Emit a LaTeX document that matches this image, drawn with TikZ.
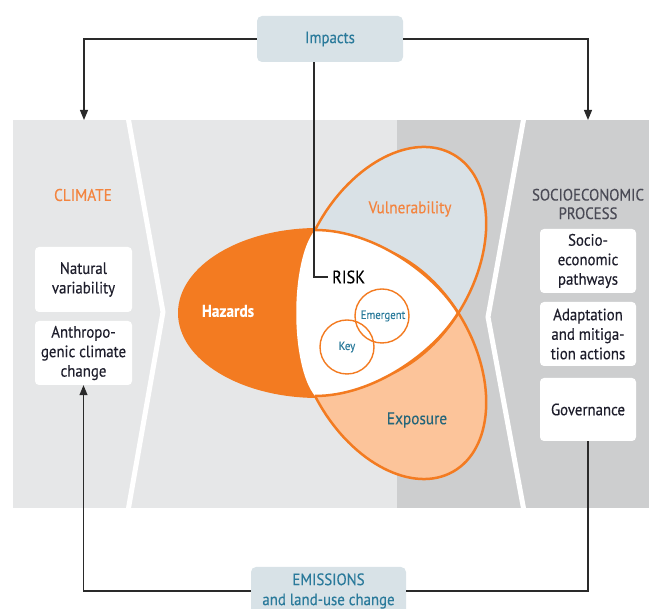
\documentclass[tikz,border=0pt]{standalone}
\usepackage{fontspec}
\setmainfont{PT Sans}[FakeStretch=0.9, FakeBold=0.3]
\usetikzlibrary{arrows.meta}
\definecolor{panellight}{HTML}{E6E7E8}
\definecolor{paneldark}{HTML}{CDCECF}
\definecolor{boxblue}{HTML}{D8E2E7}
\definecolor{vulblue}{HTML}{D9E1E6}
\definecolor{orng}{HTML}{F37B21}
\definecolor{lorng}{HTML}{F3843F}
\definecolor{peach}{HTML}{FCC49A}
\definecolor{tealtext}{HTML}{2A7A9B}
\definecolor{exptext}{HTML}{25667A}
\definecolor{boxtext}{HTML}{1E1E2C}
\definecolor{greytext}{HTML}{4A4A55}
\definecolor{conncol}{HTML}{2A2A2A}
\begin{document}
\begin{tikzpicture}[x=1pt,y=1pt,
  whitebox/.style={fill=white, rounded corners=4, minimum width=97, minimum height=64,
    align=center, inner sep=0, text=boxtext, font=\fontsize{16.5}{19.5}\selectfont},
  bluebox/.style={fill=boxblue, rounded corners=5, align=center, inner sep=0,
    text=tealtext, font=\fontsize{16.5}{20}\selectfont},
  conn/.style={draw=conncol, line width=1.1},
  tip/.style={-{Triangle[length=10,width=8]}},
  outline/.style={draw=orng, line width=2.5, line join=round},
  lbl/.style={inner sep=0, font=\fontsize{17}{20}\selectfont}
]
\useasboundingbox (0,0) rectangle (649,609);
\clip (0,0) rectangle (649,609);
% panels
\fill[panellight] (13,101) rectangle (397,489);
\fill[paneldark] (397,101) rectangle (649,489);
\draw[white, line width=5] (128,492) -- (163,297) -- (128,98);
\draw[white, line width=5] (524,492) -- (488,292) -- (524,98);
% Venn key points
\coordinate (TL) at (315,379);
\coordinate (R) at (458,296);
\coordinate (BL) at (315,213);
\def\pathV{(391,345) circle [x radius=126, y radius=83, rotate=60.5]}
\def\pathE{(391,247) circle [x radius=126, y radius=83, rotate=-60.5]}
% Vulnerability and Exposure
\fill[vulblue] \pathV;
\fill[peach] \pathE;
\path[outline] \pathV;
\path[outline] \pathE;
% Hazards (left of the risk area)
\begin{scope}
  \clip (0,609) -- (315,609) -- (TL) .. controls (290,348) and (290,244) .. (BL) -- (315,0) -- (0,0) -- cycle;
  \fill[orng] (318,296) circle [x radius=140, y radius=85];
\end{scope}
% Risk (white)
\fill[white] (TL) .. controls (375,379) and (435,334) .. (R)
  .. controls (435,258) and (375,213) .. (BL)
  .. controls (290,244) and (290,348) .. (TL) -- cycle;
\path[outline] (TL) .. controls (375,379) and (435,334) .. (R)
  .. controls (435,258) and (375,213) .. (BL);
\node[circle, draw=orng, line width=1.4, minimum size=54, inner sep=0] (emc) at (382,293) {};
\node[circle, draw=orng, line width=1.4, minimum size=54, inner sep=0] (keyc) at (347,262) {};
\node[inner sep=0, text=tealtext, font=\fontsize{12}{14}\selectfont] (emt) at (383,293) {Emergent};
\node[inner sep=0, text=tealtext, font=\fontsize{12}{14}\selectfont] (keyt) at (347,262) {Key};
\node[lbl, text=lorng] (vul) at (410,400) {Vulnerability};
\node[lbl, text=exptext] (exp) at (417,189) {Exposure};
\node[lbl, text=white, font=\fontsize{17}{20}\bfseries] (haz) at (228,298) {Hazards};
\node[anchor=west, inner sep=4, text=black, font=\fontsize{18}{20}\selectfont] (risk) at (328,332) {RISK};
% titles
\node[lbl, text=lorng] (clim) at (83,414) {CLIMATE};
\node[lbl, text=greytext, align=center, font=\fontsize{16.5}{18.5}\selectfont] (soc) at (588,405) {SOCIOECONOMIC\\PROCESS};
% boxes
\node[whitebox, minimum height=65] (nat) at (83.5,329.5) {Natural\\variability};
\node[whitebox] (anth) at (83.5,256) {Anthropo-\\genic climate\\change};
\node[whitebox, minimum width=96] (sep) at (588,348) {Socio-\\economic\\pathways};
\node[whitebox, minimum width=96] (ada) at (588,275) {Adaptation\\and mitiga-\\tion actions};
\node[whitebox, minimum width=96, minimum height=63] (gov) at (588,199.5) {Governance};
\node[bluebox, minimum width=146, minimum height=46] (imp) at (330,570) {Impacts};
\node[bluebox, minimum width=155, minimum height=48] (ems) at (328.5,18) {EMISSIONS\\and land-use change};
% connectors
\coordinate (lt) at (84,489);
\coordinate (rt) at (588,489);
\coordinate (rc) at (314,332);
\draw[conn, tip] (imp.west) -| (lt);
\draw[conn, tip] (imp.east) -| (rt);
\draw[conn] (imp.south -| rc) -- (rc) -- (risk.west);
\draw[conn] (gov.south) |- (ems.east);
\draw[conn, tip] (ems.west) -| (anth.south);
\end{tikzpicture}
\end{document}
